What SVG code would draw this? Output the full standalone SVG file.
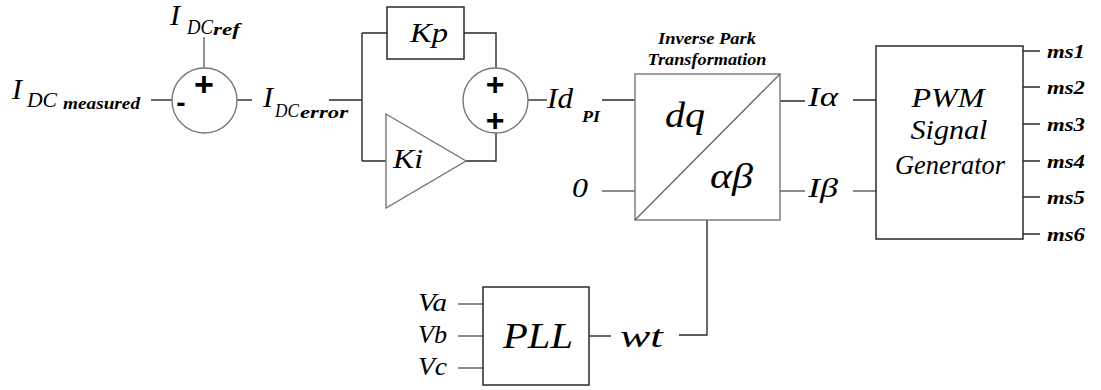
<svg xmlns="http://www.w3.org/2000/svg" width="1101" height="390" viewBox="0 0 1101 390" font-family="'Liberation Serif', 'Times New Roman', serif" font-style="italic">
<style>
.w{stroke:#2a2a2a;stroke-width:1.4;fill:none}
.g{stroke:#666;stroke-width:1.4;fill:none}
.b{stroke:#2a2a2a;stroke-width:1.5;fill:#fff}
.gb{stroke:#777;stroke-width:1.4;fill:#fff}
.bi{font-weight:bold}
</style>
<rect width="1101" height="390" fill="#fff"/>
<g id="connectors">
<path class="g" d="M204,37V68"/>
<path class="w" d="M151,100H172"/>
<path class="w" d="M237,100H252"/>
<path class="w" d="M329,100H362M362,33V161M362,33H387M464,33H496V68M496,133V161H466M362,161H386"/>
<path class="w" d="M528,100H547"/>
<path class="w" d="M602,100H635"/>
<path class="g" d="M602,191H635"/>
<path class="w" d="M780,101H805M853,100H876"/>
<path class="g" d="M780,191H805M853,191H880"/>
<path class="w" d="M707,220V335H679"/>
<path class="g" d="M458,304H483M458,336H483M458,368H483"/>
<path class="w" d="M589,336H611"/>
<path class="w" d="M1023,51H1040M1023,87H1040M1023,124H1040M1023,161H1040M1023,197H1040M1023,234H1040"/>
</g>
<g id="sum1">
<circle class="gb" cx="204.5" cy="100.5" r="32.5"/>
<g font-family="'Liberation Sans', Arial, sans-serif" font-style="normal" font-weight="bold">
<text x="204" y="96" font-size="34" text-anchor="middle">+</text>
<text x="181" y="112" font-size="28" text-anchor="middle">-</text>
</g>
</g>
<g id="label-ref">
<text x="170" y="25" font-size="30">I</text>
<text x="187" y="34" font-size="20" textLength="26" lengthAdjust="spacingAndGlyphs">DC</text>
<text class="bi" x="213" y="35" font-size="17" textLength="27" lengthAdjust="spacingAndGlyphs">ref</text>
</g>
<g id="label-measured">
<text x="12" y="99" font-size="30">I</text>
<text x="27" y="107" font-size="20" textLength="30" lengthAdjust="spacingAndGlyphs">DC</text>
<text class="bi" x="63" y="109" font-size="17" textLength="77" lengthAdjust="spacingAndGlyphs">measured</text>
</g>
<g id="label-error">
<text x="263" y="107" font-size="30">I</text>
<text x="275" y="117" font-size="19" textLength="24" lengthAdjust="spacingAndGlyphs">DC</text>
<text class="bi" x="300" y="118" font-size="17" textLength="48" lengthAdjust="spacingAndGlyphs">error</text>
</g>
<g id="kp">
<rect class="b" x="387" y="7" width="77" height="52"/>
<text x="410" y="42" font-size="28" textLength="38" lengthAdjust="spacingAndGlyphs">Kp</text>
</g>
<g id="ki">
<path class="gb" d="M386,114L466,161L386,208Z"/>
<text x="393" y="168" font-size="28" textLength="30" lengthAdjust="spacingAndGlyphs">Ki</text>
</g>
<g id="sum2">
<circle class="gb" cx="495.5" cy="100.5" r="32.5"/>
<g font-family="'Liberation Sans', Arial, sans-serif" font-style="normal" font-weight="bold">
<text x="495" y="95" font-size="32" text-anchor="middle">+</text>
<text x="495" y="131" font-size="32" text-anchor="middle">+</text>
</g>
</g>
<g id="label-idpi">
<text x="547" y="108" font-size="30" textLength="26" lengthAdjust="spacingAndGlyphs">Id</text>
<text class="bi" x="582" y="122" font-size="17" textLength="18" lengthAdjust="spacingAndGlyphs">PI</text>
</g>
<g id="park">
<text class="bi" x="707" y="44" font-size="16" text-anchor="middle" textLength="98" lengthAdjust="spacingAndGlyphs">Inverse Park</text>
<text class="bi" x="707" y="65" font-size="16" text-anchor="middle" textLength="119" lengthAdjust="spacingAndGlyphs">Transformation</text>
<rect class="gb" x="635" y="74" width="145" height="146"/>
<path class="g" d="M635,220L780,74"/>
<text x="665" y="127" font-size="36" textLength="40" lengthAdjust="spacingAndGlyphs">dq</text>
<text x="710" y="188" font-size="36" textLength="43" lengthAdjust="spacingAndGlyphs">αβ</text>
</g>
<g id="label-zero"><text x="572" y="197" font-size="28" textLength="16" lengthAdjust="spacingAndGlyphs">0</text></g>
<g id="label-ialpha"><text x="808" y="106" font-size="28" textLength="30" lengthAdjust="spacingAndGlyphs">Iα</text></g>
<g id="label-ibeta"><text x="808" y="197" font-size="28" textLength="30" lengthAdjust="spacingAndGlyphs">Iβ</text></g>
<g id="pwm">
<rect class="b" x="876" y="46" width="147" height="193"/>
<text x="948" y="107" font-size="27" text-anchor="middle" textLength="73" lengthAdjust="spacingAndGlyphs">PWM</text>
<text x="949" y="139" font-size="27" text-anchor="middle" textLength="77" lengthAdjust="spacingAndGlyphs">Signal</text>
<text x="950" y="174" font-size="27" text-anchor="middle" textLength="110" lengthAdjust="spacingAndGlyphs">Generator</text>
</g>
<g id="outputs">
<text class="bi" x="1047" y="58" font-size="18" textLength="38" lengthAdjust="spacingAndGlyphs">ms1</text>
<text class="bi" x="1047" y="94" font-size="18" textLength="38" lengthAdjust="spacingAndGlyphs">ms2</text>
<text class="bi" x="1047" y="131" font-size="18" textLength="38" lengthAdjust="spacingAndGlyphs">ms3</text>
<text class="bi" x="1047" y="168" font-size="18" textLength="38" lengthAdjust="spacingAndGlyphs">ms4</text>
<text class="bi" x="1047" y="204" font-size="18" textLength="38" lengthAdjust="spacingAndGlyphs">ms5</text>
<text class="bi" x="1047" y="241" font-size="18" textLength="38" lengthAdjust="spacingAndGlyphs">ms6</text>
</g>
<g id="pll">
<rect class="b" x="483" y="287" width="106" height="98"/>
<text x="503" y="348" font-size="36" textLength="70" lengthAdjust="spacingAndGlyphs">PLL</text>
</g>
<g id="pll-inputs">
<text x="418" y="311" font-size="26" textLength="29" lengthAdjust="spacingAndGlyphs">Va</text>
<text x="418" y="343" font-size="26" textLength="29" lengthAdjust="spacingAndGlyphs">Vb</text>
<text x="418" y="375" font-size="26" textLength="29" lengthAdjust="spacingAndGlyphs">Vc</text>
</g>
<g id="label-wt"><text x="620" y="347" font-size="32" textLength="43" lengthAdjust="spacingAndGlyphs">wt</text></g>
</svg>
